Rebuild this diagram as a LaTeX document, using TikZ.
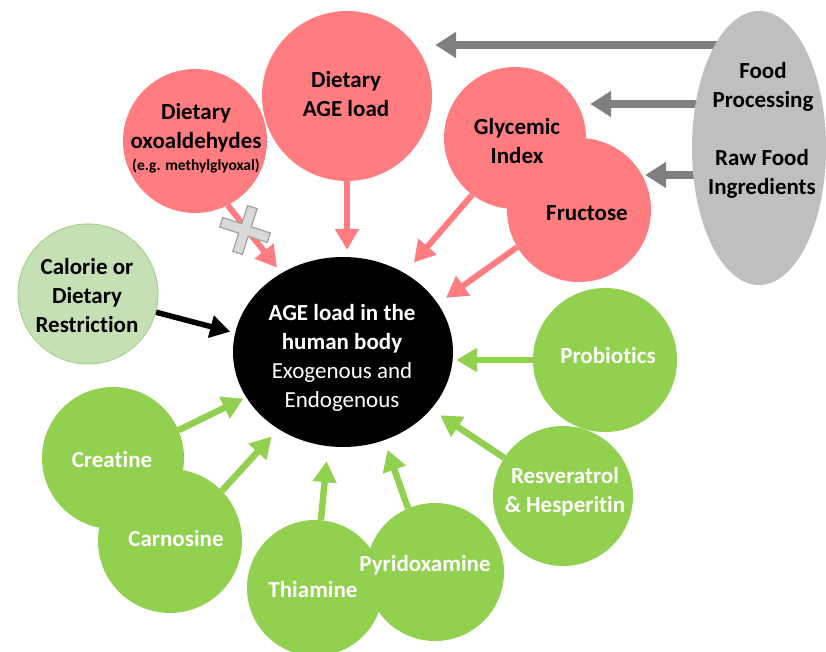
\documentclass[tikz,border=0pt]{standalone}
\usepackage{fontspec}
\setmainfont{Carlito}[Ligatures=NoCommon]
\usetikzlibrary{arrows.meta,shapes.geometric,calc}
\pgfdeclarelayer{background}
\pgfsetlayers{background,main}
\definecolor{pinkc}{HTML}{FF7C80}
\definecolor{greenc}{HTML}{92D050}
\definecolor{lgreen}{HTML}{C5E0B4}
\definecolor{lgreenb}{HTML}{A9D18E}
\definecolor{greyc}{HTML}{BFBFBF}
\definecolor{greyarr}{HTML}{808080}
\definecolor{crossfill}{HTML}{D9D9D9}
\definecolor{crossline}{HTML}{A0A0A0}
\begin{document}
\begin{tikzpicture}[x=1pt,y=-1pt,
  disc/.style={circle,inner sep=0pt,minimum size=#1},
  pinkdisc/.style={disc=#1,fill=pinkc},
  greendisc/.style={disc=#1,fill=greenc},
  lbl/.style={align=center,inner sep=0pt,font=\fontsize{23}{29}\selectfont\bfseries},
  darklbl/.style={lbl,text=black},
  whitelbl/.style={lbl,text=white},
  pinkarrow/.style={draw=pinkc,line width=6pt,-{Triangle[width=23pt,length=21pt]}},
  greenarrow/.style={draw=greenc,line width=6.5pt,-{Triangle[width=23pt,length=21pt]}},
  blackarrow/.style={draw=black,line width=5.5pt,-{Triangle[width=22pt,length=20pt]}},
  greyarrow/.style={draw=greyarr,line width=8pt,-{Triangle[width=25pt,length=21pt]}},
  crossshape/.style={fill=crossfill,draw=crossline,line width=1.2pt,line join=miter}
]
\useasboundingbox (0,0) rectangle (826,652);

% pink circles
\node[pinkdisc=170pt] (dage) at (347,96) {};
\node[pinkdisc=144pt] (oxo) at (195,141) {};
\node[pinkdisc=142pt] (gly) at (515,138) {};
\node[pinkdisc=144pt] (fru) at (579,210) {};

% grey ellipse
\node[ellipse,fill=greyc,minimum width=134pt,minimum height=274pt,inner sep=0pt] (food) at (759,148) {};

% calorie circle
\node[circle,fill=lgreen,draw=lgreenb,line width=1pt,minimum size=140pt,inner sep=0pt] (cal) at (88,294) {};

% central ellipse
\node[ellipse,fill=black,minimum width=220pt,minimum height=190pt,inner sep=0pt] (age) at (343,352) {};

% green circles
\node[greendisc=144pt] (pro) at (605,360) {};
\node[greendisc=140pt] (res) at (563,496) {};
\node[greendisc=142pt] (cre) at (113,458) {};
\node[greendisc=144pt] (car) at (170,541) {};
\node[greendisc=136pt] (thi) at (315,588) {};
\node[greendisc=138pt] (pyr) at (435,572) {};

% grey arrows (behind the ellipse)
\begin{pgfonlayer}{background}
\draw[greyarrow] ([yshift=103pt]food.center) -- ([xshift=3pt,yshift=51pt]dage.east);
\draw[greyarrow] ([yshift=44pt]food.center) -- ([xshift=4pt,yshift=34pt]gly.east);
\draw[greyarrow] ([yshift=-27pt]food.center) -- ([xshift=-6pt,yshift=35pt]fru.east);
\end{pgfonlayer}

% pink arrows
\draw[pinkarrow, shorten >=7pt] (dage.south) -- (dage.south |- age.north);
\draw[pinkarrow, shorten >=7pt] (oxo.297) -- (age.128);
\draw[pinkarrow, shorten >=14pt] (gly.233) -- (age.52);
\draw[pinkarrow, shorten >=10pt] (fru.211) -- (age.27);

% cross over the oxoaldehyde arrow
\begin{scope}[shift={(245,230)},rotate=-18]
\draw[crossshape] (-25,-5) -- (-5,-5) -- (-5,-24) -- (5,-24) -- (5,-5) -- (25,-5)
  -- (25,5) -- (5,5) -- (5,24) -- (-5,24) -- (-5,5) -- (-25,5) -- cycle;
\end{scope}

% black arrow
\draw[blackarrow, shorten >=5pt] (cal.345) -- (age.170);

% green arrows
\draw[greenarrow, shorten >=3pt] (pro.west) -- (pro.west -| age.east);
\draw[greenarrow, shorten >=11pt] (res.147) -- (age.327);
\draw[greenarrow, shorten >=10pt] (pyr.113) -- (age.295);
\draw[greenarrow, shorten >=15pt] (thi.85) -- (age.261);
\draw[greenarrow, shorten >=10pt] (car.44) -- (age.230);
\draw[greenarrow, shorten >=3pt] (cre.23) -- (age.205);

% labels
\node[darklbl] (tdage) at (346,94) {Dietary\\AGE load};
\node[darklbl] (toxo) at (196,128) {Dietary\\oxoaldehydes};
\node[darklbl,font=\fontsize{15.5}{18}\selectfont\bfseries] (toxs) at (196,166) {(e.g. methylglyoxal)};
\node[darklbl] (tgly) at (517,141) {Glycemic\\Index};
\node[darklbl] (tfru) at (587,213) {Fructose};
\node[darklbl] (tfood1) at (763,87) {Food\\Processing};
\node[darklbl] (tfood2) at (762,174) {Raw Food\\Ingredients};
\node[darklbl] (tcal) at (87,296) {Calorie or\\Dietary\\Restriction};
\node[whitelbl] (tage) at (342,358) {AGE load in the\\human body\\{\mdseries Exogenous and}\\{\mdseries Endogenous}};
\node[whitelbl] (tpro) at (608,356) {Probiotics};
\node[whitelbl] (tres) at (565,492) {Resveratrol\\\& Hesperitin};
\node[whitelbl] (tcre) at (112,460) {Creatine};
\node[whitelbl] (tcar) at (176,539) {Carnosine};
\node[whitelbl] (tthi) at (313,590) {Thiamine};
\node[whitelbl] (tpyr) at (425,565) {Pyridoxamine};
\end{tikzpicture}
\end{document}
